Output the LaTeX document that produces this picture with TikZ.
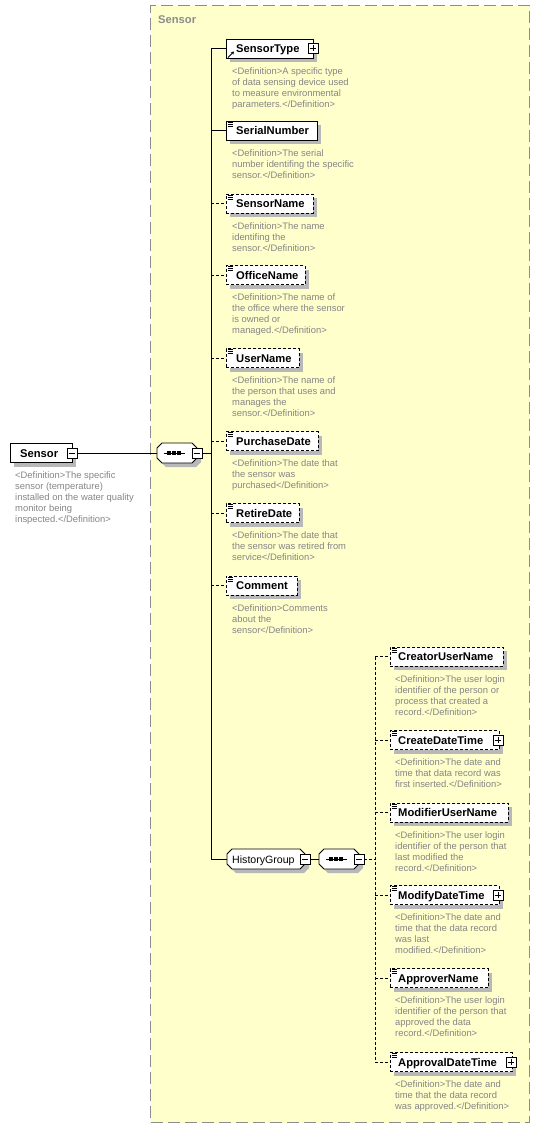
\documentclass[tikz,border=0pt]{standalone}
\usepackage{fontspec}
\setmainfont{Liberation Sans}
\usetikzlibrary{arrows.meta}
\definecolor{grpfill}{HTML}{FFFFCC}
\definecolor{grpline}{HTML}{8C8C8C}
\definecolor{defgray}{HTML}{858585}
\definecolor{shadowc}{HTML}{B8B8B8}

\newcommand\elem[7]{% id, left, right, yc, label, style, text offset
  \pgfmathsetmacro\ew{#3-#2}
  \path[fill=shadowc] (#2+4,#4-5.5) -- (#3+4,#4-5.5) -- (#3+4,#4+13.5) -- (#2+4,#4+13.5) -- cycle;
  \node[#6, minimum width=\ew pt, anchor=west] (#1) at (#2,#4) {};
  \node[namef, anchor=base west] (#1-t) at (#2+#7,#4+4) {#5};
}
\newcommand\simpleicon[2]{% x, top
  \draw[icon] (#1+1.5,#2+1) -- ++(5,0) (#1+1.5,#2+3) -- ++(5,0) (#1+1.5,#2+5) -- ++(5,0);
}
\newcommand\plusbox[3]{%
  \node[pm] (#1) at (#2,#3) {};
  \draw[pmline] (#1.west) ++(2,0) -- ++(6,0) (#1.north) ++(0,2) -- ++(0,6);
}
\newcommand\minusbox[3]{%
  \node[pm] (#1) at (#2,#3) {};
  \draw[pmline] (#1.west) ++(2,0) -- ++(6,0);
}
% chamfered outline: x1, y1, x2, y2
\newcommand\octo[5]{%
  \path[#5] (#1+5,#2) -- (#3-5,#2) -- (#3,#2+5) -- (#3,#4-5) -- (#3-5,#4) -- (#1+5,#4) -- (#1,#4-5) -- (#1,#2+5) -- cycle;
}
\newcommand\chamfnode[5]{% id, west x, east x, yc, extra
  \pgfmathsetmacro\ew{#3-#2}
  \octo{#2+4}{#4-6}{#3+4}{#4+14}{fill=shadowc}
  \octo{#2}{#4-10}{#3}{#4+10}{draw=black, fill=white, line width=0.8pt}
  \node[anchorbox, minimum width=\ew pt, anchor=west] (#1) at (#2,#4) {};
}
\newcommand\seqnode[3]{% id, west x, yc
  \chamfnode{#1}{#2}{#2+40}{#3}{}
  \draw[line width=0.9pt] (#2+7,#3) -- (#2+28,#3);
  \foreach \d in {12,17,22} \fill (#2+\d-1.6,#3-1.6) rectangle ++(3.2,3.2);
}
\newcommand\defnode[4]{\node[deff, anchor=north west] (#1) at (#2,#3+18.5) {#4};}

\begin{document}
\begin{tikzpicture}[x=1pt,y=-1pt,
  elbox/.style={draw=black, fill=white, line width=0.8pt, inner sep=0pt, minimum height=19pt},
  optbox/.style={elbox, dash pattern=on 3pt off 2pt},
  anchorbox/.style={inner sep=0pt, minimum height=20pt},
  namef/.style={font=\fontsize{11.2}{13}\selectfont\bfseries, inner sep=0pt},
  grpf/.style={font=\fontsize{10.6}{13}\selectfont, inner sep=0pt},
  deff/.style={font=\fontsize{9.4}{11}\selectfont, text=defgray, align=left, inner sep=0pt},
  pm/.style={draw=black, fill=white, line width=0.9pt, minimum size=10pt, inner sep=0pt},
  pmline/.style={line width=0.9pt},
  conn/.style={line width=0.8pt},
  optconn/.style={conn, dash pattern=on 3pt off 2pt},
  icon/.style={line width=0.7pt},
]
\useasboundingbox (0,0) rectangle (539,1128);

% group container
\node[draw=grpline, fill=grpfill, line width=1.3pt, dash pattern=on 12pt off 5pt,
      minimum width=379pt, minimum height=1117pt, anchor=north west, inner sep=0pt] (grp) at (150,5) {};
\node[namef, text=grpline, anchor=base west] (grplabel) at (158,23) {Sensor};

% root
\elem{sensor}{10}{72}{453}{Sensor}{elbox}{10}
\minusbox{sensor-pm}{72}{453}
\defnode{sensor-d}{15}{453}{<Definition>The specific\\sensor (temperature)\\installed on the water quality\\monitor being\\inspected.</Definition>}

% sequence 1
\seqnode{seq1}{157}{453}
\minusbox{seq1-pm}{197}{453}
\coordinate (bus1) at (211,0);

% first column
\elem{sensortype}{226}{313}{48.5}{SensorType}{elbox}{10}
\plusbox{sensortype-pm}{313}{48.5}
\draw[line width=1pt, -{Stealth[length=3pt,width=3.5pt]}] (228,57.5) -- (234,51.5);
\defnode{sensortype-d}{232}{48.5}{<Definition>A specific type\\of data sensing device used\\to measure environmental\\parameters.</Definition>}

\elem{serialnumber}{226}{317}{130.5}{SerialNumber}{elbox}{10}
\simpleicon{226}{121}
\defnode{serialnumber-d}{232}{130.5}{<Definition>The serial\\number identifing the specific\\sensor.</Definition>}

\elem{sensorname}{226}{313}{203.5}{SensorName}{optbox}{10}
\simpleicon{226}{194}
\defnode{sensorname-d}{232}{203.5}{<Definition>The name\\identifing the\\sensor.</Definition>}

\elem{officename}{226}{305}{275}{OfficeName}{optbox}{10}
\simpleicon{226}{265.5}
\defnode{officename-d}{232}{275}{<Definition>The name of\\the office where the sensor\\is owned or\\managed.</Definition>}

\elem{username}{226}{299}{358}{UserName}{optbox}{10}
\simpleicon{226}{348.5}
\defnode{username-d}{232}{358}{<Definition>The name of\\the person that uses and\\manages the\\sensor.</Definition>}

\elem{purchasedate}{226}{318}{441}{PurchaseDate}{optbox}{10}
\simpleicon{226}{431.5}
\defnode{purchasedate-d}{232}{441}{<Definition>The date that\\the sensor was\\purchased</Definition>}

\elem{retiredate}{226}{299}{513}{RetireDate}{optbox}{10}
\simpleicon{226}{503.5}
\defnode{retiredate-d}{232}{513}{<Definition>The date that\\the sensor was retired from\\service</Definition>}

\elem{comment}{226}{297}{585.5}{Comment}{optbox}{10}
\simpleicon{226}{576}
\defnode{comment-d}{232}{585.5}{<Definition>Comments\\about the\\sensor</Definition>}

% history group
\chamfnode{historygroup}{227}{305}{859}{}
\node[grpf, anchor=base west] (historygroup-t) at (232,863) {HistoryGroup};
\minusbox{historygroup-pm}{305}{859}
\seqnode{seq2}{319}{859}
\minusbox{seq2-pm}{359}{859}
\coordinate (bus2) at (375,0);

% history children
\elem{creatorusername}{390}{503}{656.5}{CreatorUserName}{optbox}{8}
\simpleicon{390}{647}
\defnode{creatorusername-d}{395}{656.5}{<Definition>The user login\\identifier of the person or\\process that created a\\record.</Definition>}

\elem{createdatetime}{390}{499}{740}{CreateDateTime}{optbox}{8}
\simpleicon{390}{730.5}
\plusbox{createdatetime-pm}{498}{740}
\defnode{createdatetime-d}{395}{740}{<Definition>The date and\\time that data record was\\first inserted.</Definition>}

\elem{modifierusername}{390}{508}{812.5}{ModifierUserName}{optbox}{8}
\simpleicon{390}{803}
\defnode{modifierusername-d}{395}{812.5}{<Definition>The user login\\identifier of the person that\\last modified the\\record.</Definition>}

\elem{modifydatetime}{390}{499}{895}{ModifyDateTime}{optbox}{8}
\simpleicon{390}{885.5}
\plusbox{modifydatetime-pm}{498}{895}
\defnode{modifydatetime-d}{395}{895}{<Definition>The date and\\time that the data record\\was last\\modified.</Definition>}

\elem{approvername}{390}{488}{978}{ApproverName}{optbox}{8}
\simpleicon{390}{968.5}
\defnode{approvername-d}{395}{978}{<Definition>The user login\\identifier of the person that\\approved the data\\record.</Definition>}

\elem{approvaldatetime}{390}{512}{1062}{ApprovalDateTime}{optbox}{8}
\simpleicon{390}{1052.5}
\plusbox{approvaldatetime-pm}{511}{1062}
\defnode{approvaldatetime-d}{395}{1062}{<Definition>The date and\\time that the data record\\was approved.</Definition>}

% connectors
\draw[conn] (sensor-pm.east) -- (seq1.west);
\draw[conn] (seq1-pm.east) -- (seq1-pm.east -| bus1);
\draw[conn] (bus1 |- sensortype.west) -- (bus1 |- historygroup.west);
\foreach \n in {sensortype,serialnumber,historygroup}
  \draw[conn] (bus1 |- \n.west) -- (\n.west);
\foreach \n in {sensorname,officename,username,purchasedate,retiredate,comment}
  \draw[optconn] (bus1 |- \n.west) -- (\n.west);
\draw[conn] (historygroup-pm.east) -- (seq2.west);
\draw[optconn] (seq2-pm.east) -- (seq2-pm.east -| bus2);
\draw[optconn] (bus2 |- creatorusername.west) -- (bus2 |- approvaldatetime.west);
\foreach \n in {creatorusername,createdatetime,modifierusername,modifydatetime,approvername,approvaldatetime}
  \draw[optconn] (bus2 |- \n.west) -- (\n.west);
\end{tikzpicture}
\end{document}
